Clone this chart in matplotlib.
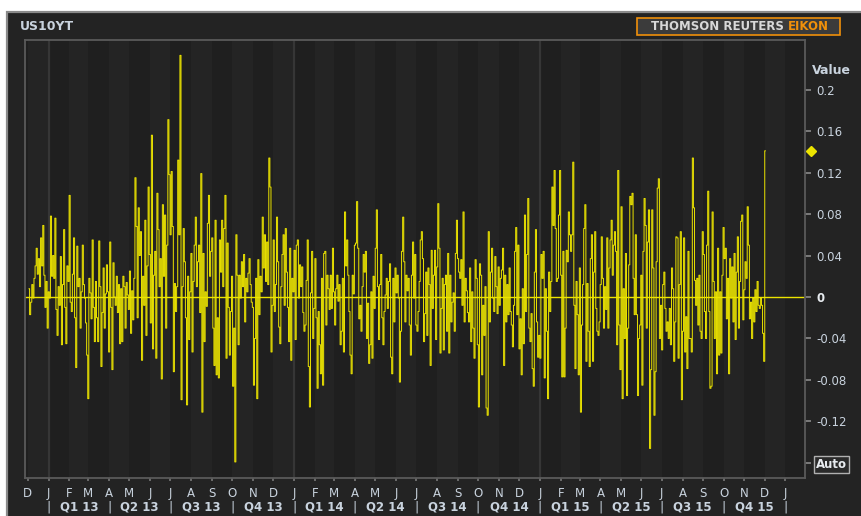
import matplotlib
matplotlib.use("Agg")
import matplotlib.pyplot as plt
import matplotlib.transforms as mtransforms
from matplotlib.patches import Rectangle
import pandas as pd

# daily change of the US 10y yield (Dec 2012 - Dec 2015)
chg_dec12_jun13 = [
    0.008, -0.017, -0.005, 0.012, -0.001, 0.018, 0.030, 0.047, 0.022, 0.037,
    0.010, 0.057, 0.030, 0.069, 0.021, -0.010, 0.015, -0.030, 0.005, -0.001,
    0.078, 0.020, 0.040, 0.018, 0.076, -0.012, -0.037, 0.010, -0.008, 0.039,
    -0.046, 0.012, 0.065, -0.010, -0.045, 0.030, 0.015, 0.098, -0.005, -0.014,
    0.022, 0.057, -0.020, -0.068, 0.049, 0.010, 0.018, -0.030, 0.005, 0.050,
    0.012, -0.001, -0.025, -0.056, -0.098, 0.018, 0.004, -0.021, 0.055, -0.010,
    -0.043, 0.015, -0.020, -0.043, 0.054, 0.010, -0.067, -0.015, 0.028, -0.030,
    0.003, 0.031, 0.005, -0.053, 0.053, -0.010, -0.070, 0.033, 0.000, -0.008,
    0.020, -0.015, 0.012, -0.045, 0.008, -0.043, 0.020, 0.010, -0.030, 0.014,
    0.002, -0.012, 0.025, -0.035, 0.006, -0.022, 0.018,
    0.115, 0.068, -0.020, 0.086, 0.040, 0.063, -0.061, 0.020, -0.008, 0.074,
    -0.037, 0.030, 0.106, 0.041, -0.025, 0.156, -0.050, 0.021, 0.044, -0.059,
    0.100, 0.065, 0.010, 0.037, -0.079, 0.089, 0.020, 0.079, -0.030, 0.050,
    0.171, 0.118, 0.060, 0.121, 0.068, -0.072, 0.013, -0.014, 0.010, 0.132,
    0.060, 0.233,
]
chg_jul13_feb14 = [
    -0.099, 0.010, 0.066, 0.034, -0.020, -0.104, 0.020, -0.041, 0.005, 0.042,
    -0.053, 0.015, 0.050, 0.077, 0.010, 0.034, 0.050, -0.015, 0.119, -0.111,
    0.042, -0.043, 0.005, -0.009, 0.071, 0.098, 0.020, 0.044, 0.057, -0.030,
    -0.066, 0.074, -0.075, -0.020, -0.078, 0.055, 0.024, 0.074, 0.010, 0.066,
    0.098, -0.059, 0.052, -0.010, -0.056, -0.014, 0.020, -0.086, -0.030, -0.159,
    0.060, 0.021, -0.046, 0.021, -0.001, 0.034, 0.010, 0.041, -0.024, 0.018,
    0.005, 0.023, 0.037, 0.012, -0.005, -0.010, -0.085, -0.040, 0.018, -0.098,
    0.036, -0.017, 0.020, 0.005, 0.077, 0.028, 0.060, 0.015, 0.053, 0.012,
    0.134, 0.106, -0.053, -0.008, 0.055, -0.014, 0.012, 0.077, 0.034, -0.029,
    -0.045, 0.010, 0.041, 0.060, -0.008, 0.066, 0.024, -0.010, -0.043, 0.047,
    -0.061, 0.018, 0.005, 0.045, -0.041, 0.050, 0.055, -0.001, 0.031, 0.010,
    0.029, -0.015, -0.033, -0.027, 0.016, 0.055, -0.067, -0.106, 0.004, 0.044,
    -0.040, -0.011, 0.037, -0.020, -0.088, -0.014, -0.046, -0.074, 0.018, -0.085,
    0.042, 0.044, -0.027, 0.021, 0.008, -0.012,
]
chg_feb14_sep14 = [
    0.021, -0.011, 0.047, 0.005, -0.027, 0.008, 0.021, -0.004, 0.012, -0.046,
    -0.033, 0.018, -0.053, 0.082, 0.030, 0.055, 0.021, -0.014, -0.056, -0.074,
    0.021, 0.003, 0.050, 0.052, 0.092, 0.047, -0.021, -0.008, -0.033, 0.010,
    0.041, 0.024, 0.044, -0.040, -0.006, -0.064, -0.046, 0.005, -0.059, 0.020,
    -0.011, 0.047, 0.084, 0.010, -0.041, 0.012, 0.041, -0.020, -0.046, -0.014,
    0.002, 0.018, -0.011, 0.015, 0.032, -0.058, -0.074, 0.018, -0.024, 0.028,
    0.004, 0.021, -0.001, -0.082, -0.033, 0.044, 0.077, 0.034, -0.024, 0.021,
    0.006, 0.018, -0.027, -0.056, 0.021, 0.053, -0.001, 0.041, -0.027, -0.033,
    -0.014, 0.015, 0.055, 0.063, 0.037, -0.043, -0.016, 0.024, -0.037, 0.028,
    0.012, -0.066, 0.045, -0.011, 0.021, 0.045, -0.041, 0.029, 0.090, 0.047,
    -0.054, -0.011, 0.018, -0.051, 0.012, 0.021, -0.033, 0.042, -0.054, 0.021,
    -0.024, -0.005, 0.004, -0.033, 0.042, 0.074, 0.037, 0.024, 0.018, 0.036,
    -0.008, 0.082, -0.024, 0.018, 0.006, -0.015,
]
chg_sep14_apr15 = [
    -0.024, 0.028, -0.043, 0.005, -0.030, -0.059, 0.036, 0.018, -0.046, -0.106,
    0.032, 0.021, -0.075, -0.008, -0.037, 0.010, -0.107, -0.114, 0.063, -0.024,
    0.024, 0.047, -0.001, -0.014, 0.039, 0.010, -0.016, 0.029, -0.008, 0.018,
    0.026, 0.047, -0.066, 0.021, -0.024, 0.012, -0.017, 0.028, -0.014, -0.027,
    -0.048, -0.008, 0.044, 0.067, -0.017, 0.050, -0.050, -0.021, -0.075, 0.008,
    -0.045, 0.079, -0.014, 0.041, 0.095, -0.030, -0.043, -0.016, -0.069, -0.086,
    0.024, 0.065, -0.024, -0.058, -0.037, -0.059, 0.041, 0.018, 0.044, -0.078,
    0.008, -0.033, -0.098, 0.024, -0.014, 0.015, 0.106, 0.069, 0.122, 0.066,
    0.015, 0.018, 0.079, 0.122, 0.021, -0.077, 0.044, -0.077, -0.030, 0.045,
    0.034, 0.082, 0.060, 0.044, 0.060, 0.130, -0.008, -0.069, 0.015, -0.017,
    -0.075, 0.028, -0.111, -0.027, 0.012, 0.066, 0.089, -0.062, 0.013, -0.033,
    -0.067, 0.037, 0.060, -0.062, 0.024, 0.063, -0.011, -0.033, -0.037, -0.024,
    0.012, 0.058, 0.018, -0.030, 0.010, -0.012,
]
chg_apr15_dec15 = [
    0.057, -0.030, 0.028, 0.055, 0.074, 0.021, 0.050, 0.063, 0.044, -0.046,
    0.122, -0.027, -0.070, 0.087, -0.098, 0.008, -0.040, 0.042, -0.095, -0.030,
    0.031, 0.097, 0.089, 0.100, 0.018, -0.017, 0.060, -0.017, -0.095, -0.040,
    -0.027, 0.021, -0.085, 0.044, 0.095, 0.069, -0.030, 0.053, 0.084, -0.146,
    -0.070, 0.084, 0.028, -0.114, -0.072, 0.034, 0.105, 0.114, -0.040, -0.008,
    -0.051, 0.012, 0.024, -0.011, -0.033, -0.024, -0.040, -0.011, -0.046, 0.028,
    0.008, -0.062, -0.024, 0.058, 0.057, -0.059, 0.012, 0.063, -0.099, -0.033,
    0.057, -0.053, -0.019, -0.069, 0.044, -0.040, -0.040, -0.053, 0.134, 0.086,
    0.016, -0.008, 0.018, -0.027, 0.021, -0.033, -0.040, 0.063, 0.041, -0.014,
    -0.040, 0.050, 0.102, -0.014, -0.088, -0.086, 0.082, 0.015, -0.040, 0.005,
    -0.074, 0.047, -0.056, 0.005, -0.054, 0.021, 0.067, 0.037, 0.047, -0.021,
    0.018, -0.074, 0.037, -0.001, 0.029, -0.024, 0.042, -0.041, 0.024, 0.058,
    -0.030, 0.015, 0.073, 0.079, -0.022, 0.007, 0.034, 0.018, 0.087, 0.050,
    -0.021, -0.005, -0.040, -0.001, -0.024, 0.007, -0.014, 0.015, -0.008, -0.011,
    -0.001, -0.008, -0.035, -0.062, 0.141,
]

y_ticks = [0.2, 0.16, 0.12, 0.08, 0.04, 0, -0.04, -0.08, -0.12, -0.16]
y_labels = ["0.2", "0.16", "0.12", "0.08", "0.04", "0", "-0.04", "-0.08", "-0.12", "Auto"]
quarters = ["Q1 13", "Q2 13", "Q3 13", "Q4 13", "Q1 14", "Q2 14",
            "Q3 14", "Q4 14", "Q1 15", "Q2 15", "Q3 15", "Q4 15"]

values = chg_dec12_jun13 + chg_jul13_feb14 + chg_feb14_sep14 + chg_sep14_apr15 + chg_apr15_dec15
dates = pd.date_range("2012-12-03", "2015-12-02", periods=len(values))
last_value = values[-1]

YELLOW = "#ece400"
TXT = "#c9d3de"

W, H = 862, 516
fig = plt.figure(figsize=(W / 100, H / 100), dpi=100)
fig.patch.set_facecolor("white")
fig.patches.append(Rectangle((7 / W, -0.02), 1.0, (H - 12) / H + 0.02, transform=fig.transFigure,
                             facecolor="#232323", edgecolor="#8a8a8a", lw=1.6, zorder=-10))

ax = fig.add_axes([25 / W, 1 - 478 / H, 780 / W, 438 / H])
ax.set_zorder(2)
ax.set_facecolor("#1f1f1f")

# monthly shading and year separators
months = pd.date_range("2012-11-01", "2016-02-01", freq="MS")
for m0, m1 in zip(months[:-1], months[1:]):
    if m0.month % 2 == 0:
        ax.axvspan(m0, m1, color="#242424", lw=0, zorder=0)
for yr in ["2013-01-01", "2014-01-01", "2015-01-01"]:
    ax.axvline(pd.Timestamp(yr), color="#363636", lw=1.6, zorder=0.5)

ax.axhline(0, color=YELLOW, lw=1.0, zorder=2)
ax.plot(dates, values, color=YELLOW, lw=0.7, drawstyle="steps-mid", zorder=3)

ax.set_xlim(pd.Timestamp("2012-11-27"), pd.Timestamp("2016-01-30"))
ax.set_ylim(-0.1745, 0.2478)

for s in ax.spines.values():
    s.set_color("#5a5a5a")
    s.set_linewidth(1.3)

# x axis: month letters
month_ticks = pd.date_range("2012-12-01", "2016-01-01", freq="MS")
ax.set_xticks(month_ticks)
ax.set_xticklabels(["JFMAMJJASOND"[d.month - 1] for d in month_ticks])
ax.tick_params(axis="x", direction="out", length=2.5, width=1.4, color="#6a6a6a",
               labelcolor=TXT, labelsize=8.5, pad=4)

# quarter row
xt = ax.get_xaxis_transform()
q_starts = pd.date_range("2013-01-01", "2016-01-01", freq="QS")
for q0, q1, lab in zip(q_starts[:-1], q_starts[1:], quarters):
    ax.text(q0 + (q1 - q0) / 2, -0.066, lab, transform=xt, ha="center", va="center",
            color=TXT, fontsize=8.5, fontweight="bold", clip_on=False)
for q in q_starts:
    ax.text(q, -0.066, "|", transform=xt, ha="center", va="center",
            color=TXT, fontsize=9, clip_on=False)

# y axis on the right
ax.yaxis.tick_right()
ax.set_yticks(y_ticks)
ax.set_yticklabels(y_labels)
ax.tick_params(axis="y", direction="out", length=4, width=1.2, color="#8a8a8a",
               labelcolor=TXT, labelsize=8.5, pad=4)
for t in ax.get_yticklabels():
    if t.get_text() == "Auto":
        t.set_fontweight("bold")
        t.set_color("#e8ecf0")
        t.set_bbox(dict(facecolor="#2a2a2a", edgecolor="#b0b0b0", lw=1.0, pad=1.2))
    elif t.get_text() == "0":
        t.set_fontweight("bold")
        t.set_color("#e8ecf0")

fig.text(812 / W, 1 - 71 / H, "Value", color=TXT, fontsize=9, fontweight="bold",
         ha="left", va="center")

# last value marker
bt = mtransforms.blended_transform_factory(ax.transAxes, ax.transData)
ax.plot([1.0077], [last_value], marker="D", ms=5, color=YELLOW, transform=bt,
        clip_on=False, zorder=5)

# header
fig.text(20 / W, 1 - 27 / H, "US10YT", color=TXT, fontsize=9, fontweight="bold",
         ha="left", va="center")
fig.patches.append(Rectangle((637 / W, 1 - 35 / H), 203 / W, 17 / H, transform=fig.transFigure,
                             facecolor="#3b3b3b", edgecolor="#f0900a", lw=1.2, zorder=1))
fig.text(784 / W, 1 - 26.5 / H, "THOMSON REUTERS", color="#d8d8d8", fontsize=8.5,
         fontweight="bold", ha="right", va="center")
fig.text(788 / W, 1 - 26.5 / H, "EIKON", color="#f0900a", fontsize=8.5,
         fontweight="bold", ha="left", va="center")

fig.savefig("out.png", dpi=100)
